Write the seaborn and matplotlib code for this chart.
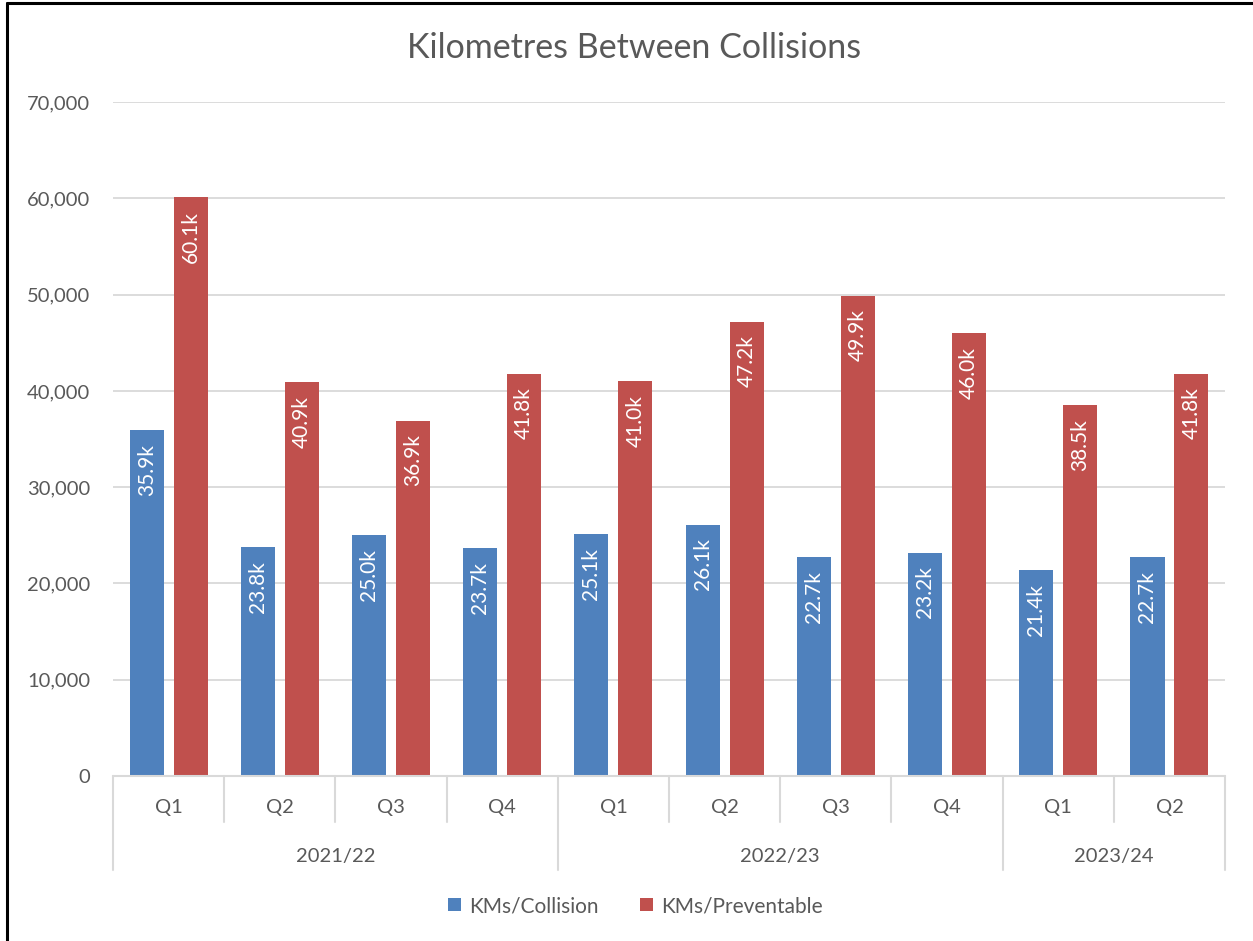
import numpy as np
import pandas as pd
import matplotlib
matplotlib.use("Agg")
import matplotlib.pyplot as plt
import matplotlib.transforms as mtransforms
from matplotlib.lines import Line2D
from matplotlib.patches import Patch
import seaborn as sns

#Data
years = ['2021/22', '2021/22', '2021/22', '2021/22',
         '2022/23', '2022/23', '2022/23', '2022/23',
         '2023/24', '2023/24']
quarters = ['Q1', 'Q2', 'Q3', 'Q4', 'Q1', 'Q2', 'Q3', 'Q4', 'Q1', 'Q2']
kms_collision = [35900, 23800, 25000, 23700, 25100, 26100, 22700, 23200, 21400, 22700]
kms_preventable = [60100, 40900, 36900, 41800, 41000, 47200, 49900, 46000, 38500, 41800]
series_names = ['KMs/Collision', 'KMs/Preventable']
y_ticks = [0, 10000, 20000, 30000, 40000, 50000, 60000, 70000]

colors = ['#4F81BD', '#C0504D']
text_col = '#595959'
line_col = '#D9D9D9'

#Long table for seaborn
period = [y + ' ' + q for y, q in zip(years, quarters)]
df = pd.DataFrame({
    'period': period * 2,
    'value': kms_collision + kms_preventable,
    'series': [series_names[0]] * len(period) + [series_names[1]] * len(period),
})

sns.set_style('white')
plt.rcParams['font.family'] = ['Lato', 'DejaVu Sans']

fig = plt.figure(figsize=(12.53, 9.41), dpi=100)
ax = fig.add_axes([0.0902, 0.1753, 0.8875, 0.7163])

sns.barplot(data=df, x='period', y='value', hue='series', order=period,
            hue_order=series_names, palette=colors, width=0.79, gap=0.225,
            saturation=1, legend=False, ax=ax, edgecolor='none')

ax.set_xlim(-0.5, len(period) - 0.5)
ax.set_ylim(0, 70000)
ax.set_yticks(y_ticks)
ax.set_yticklabels([f'{v:,}' for v in y_ticks], fontsize=14.5, color=text_col)
ax.tick_params(axis='y', length=0, pad=16.5)
ax.set_xticks([])
ax.set_xlabel('')
ax.set_ylabel('')
ax.yaxis.grid(True, color=line_col, linewidth=1.3)
ax.set_axisbelow(True)
for s in ax.spines.values():
    s.set_visible(False)

#Value labels inside the top of each bar
for cont in ax.containers:
    for bar in cont:
        h = bar.get_height()
        ax.annotate(f'{h / 1000:.1f}k', (bar.get_x() + bar.get_width() / 2, h),
                    xytext=(0, -10), textcoords='offset points',
                    rotation=90, ha='center', va='top', color='white', fontsize=15)

#Multi-level category axis
trans = mtransforms.blended_transform_factory(ax.transData, ax.transAxes)
ax.plot([-0.5, len(period) - 0.5], [0, 0], transform=trans, color=line_col,
        lw=1.5, clip_on=False)
for i, q in enumerate(quarters):
    ax.text(i, -0.047, q, transform=trans, ha='center', va='center',
            fontsize=14.5, color=text_col)
edges = [0]
for i in range(1, len(years)):
    if years[i] != years[i - 1]:
        edges.append(i)
edges.append(len(years))
for i in range(len(years) + 1):
    bottom = -0.139 if i in edges else -0.068
    ax.plot([i - 0.5, i - 0.5], [0, bottom], transform=trans, color=line_col,
            lw=1.5, clip_on=False)
for a, b in zip(edges[:-1], edges[1:]):
    ax.text((a + b - 1) / 2, -0.119, years[a], transform=trans, ha='center',
            va='center', fontsize=14.5, color=text_col)

fig.text(0.506, 0.949, 'Kilometres Between Collisions', ha='center', va='center',
         fontsize=24.5, color=text_col)

handles = [Patch(facecolor=c, edgecolor='none') for c in colors]
fig.legend(handles, series_names, loc='center', bbox_to_anchor=(0.507, 0.037),
           ncol=2, frameon=False, fontsize=15, handlelength=0.6, handleheight=0.6,
           handletextpad=0.4, columnspacing=2.0, labelcolor=text_col)

#Black frame on the left and top edges
fig.add_artist(Line2D([0.0056, 0.0056], [0, 0.9968], transform=fig.transFigure,
                      color='black', lw=2.2))
fig.add_artist(Line2D([0.0056, 1], [0.9968, 0.9968], transform=fig.transFigure,
                      color='black', lw=2.2))

fig.savefig('out.png', dpi=100)
